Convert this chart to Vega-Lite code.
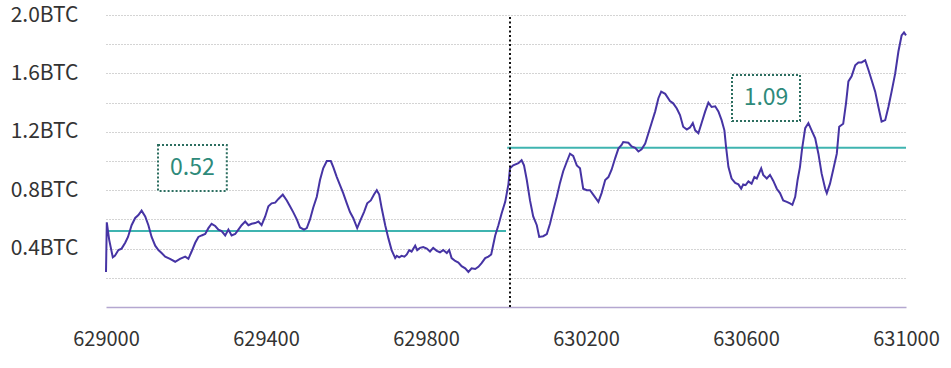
{
  "$schema": "https://vega.github.io/schema/vega-lite/v6.json",
  "width": 800,
  "height": 292,
  "autosize": {"type": "none"},
  "padding": {"left": 106, "top": 15, "right": 45, "bottom": 61},
  "background": "white",
  "config": {"view": {"stroke": null}, "font": "Noto Sans CJK SC"},
  "resolve": {"axis": {"y": "independent"}},
  "datasets": {
    "series": [
      {"block": 629000, "btc": 0.24}, {"block": 629002, "btc": 0.58}, {"block": 629008, "btc": 0.46},
      {"block": 629017, "btc": 0.34}, {"block": 629022, "btc": 0.35}, {"block": 629031, "btc": 0.39},
      {"block": 629039, "btc": 0.40}, {"block": 629048, "btc": 0.44}, {"block": 629055, "btc": 0.48},
      {"block": 629064, "btc": 0.56}, {"block": 629073, "btc": 0.61}, {"block": 629081, "btc": 0.63},
      {"block": 629089, "btc": 0.66}, {"block": 629098, "btc": 0.62}, {"block": 629106, "btc": 0.56},
      {"block": 629114, "btc": 0.48}, {"block": 629123, "btc": 0.42}, {"block": 629131, "btc": 0.39},
      {"block": 629139, "btc": 0.37}, {"block": 629148, "btc": 0.345}, {"block": 629160, "btc": 0.33},
      {"block": 629173, "btc": 0.31}, {"block": 629185, "btc": 0.33}, {"block": 629198, "btc": 0.345},
      {"block": 629206, "btc": 0.33}, {"block": 629214, "btc": 0.38}, {"block": 629223, "btc": 0.44},
      {"block": 629231, "btc": 0.48}, {"block": 629239, "btc": 0.49}, {"block": 629248, "btc": 0.50},
      {"block": 629256, "btc": 0.54}, {"block": 629264, "btc": 0.57}, {"block": 629273, "btc": 0.555},
      {"block": 629281, "btc": 0.53}, {"block": 629289, "btc": 0.52}, {"block": 629298, "btc": 0.49},
      {"block": 629306, "btc": 0.53}, {"block": 629314, "btc": 0.49}, {"block": 629323, "btc": 0.50},
      {"block": 629331, "btc": 0.53}, {"block": 629339, "btc": 0.56}, {"block": 629348, "btc": 0.585},
      {"block": 629356, "btc": 0.56}, {"block": 629364, "btc": 0.57}, {"block": 629373, "btc": 0.575},
      {"block": 629381, "btc": 0.585}, {"block": 629389, "btc": 0.56}, {"block": 629398, "btc": 0.62},
      {"block": 629406, "btc": 0.69}, {"block": 629414, "btc": 0.71}, {"block": 629423, "btc": 0.715},
      {"block": 629431, "btc": 0.74}, {"block": 629442, "btc": 0.77}, {"block": 629452, "btc": 0.73},
      {"block": 629460, "btc": 0.69}, {"block": 629468, "btc": 0.65}, {"block": 629477, "btc": 0.60},
      {"block": 629485, "btc": 0.545}, {"block": 629495, "btc": 0.53}, {"block": 629502, "btc": 0.54},
      {"block": 629510, "btc": 0.60}, {"block": 629518, "btc": 0.68}, {"block": 629527, "btc": 0.755},
      {"block": 629535, "btc": 0.87}, {"block": 629543, "btc": 0.95}, {"block": 629552, "btc": 1.00},
      {"block": 629562, "btc": 1.00}, {"block": 629568, "btc": 0.96}, {"block": 629577, "btc": 0.89},
      {"block": 629585, "btc": 0.835}, {"block": 629593, "btc": 0.78}, {"block": 629602, "btc": 0.71},
      {"block": 629610, "btc": 0.65}, {"block": 629618, "btc": 0.61}, {"block": 629628, "btc": 0.54},
      {"block": 629637, "btc": 0.60}, {"block": 629645, "btc": 0.65}, {"block": 629653, "btc": 0.71},
      {"block": 629662, "btc": 0.73}, {"block": 629670, "btc": 0.77}, {"block": 629677, "btc": 0.80},
      {"block": 629683, "btc": 0.77}, {"block": 629689, "btc": 0.68}, {"block": 629698, "btc": 0.56},
      {"block": 629706, "btc": 0.47}, {"block": 629714, "btc": 0.39}, {"block": 629723, "btc": 0.335},
      {"block": 629727, "btc": 0.35}, {"block": 629733, "btc": 0.34}, {"block": 629739, "btc": 0.35},
      {"block": 629746, "btc": 0.345}, {"block": 629752, "btc": 0.36}, {"block": 629758, "btc": 0.39},
      {"block": 629764, "btc": 0.38}, {"block": 629773, "btc": 0.42}, {"block": 629778, "btc": 0.39},
      {"block": 629785, "btc": 0.405}, {"block": 629793, "btc": 0.41}, {"block": 629802, "btc": 0.40},
      {"block": 629810, "btc": 0.38}, {"block": 629818, "btc": 0.405}, {"block": 629827, "btc": 0.385},
      {"block": 629835, "btc": 0.375}, {"block": 629843, "btc": 0.39}, {"block": 629852, "btc": 0.37},
      {"block": 629858, "btc": 0.39}, {"block": 629864, "btc": 0.335}, {"block": 629873, "btc": 0.315},
      {"block": 629881, "btc": 0.305}, {"block": 629889, "btc": 0.28}, {"block": 629898, "btc": 0.265},
      {"block": 629906, "btc": 0.24}, {"block": 629914, "btc": 0.265}, {"block": 629923, "btc": 0.26},
      {"block": 629931, "btc": 0.275}, {"block": 629939, "btc": 0.30}, {"block": 629948, "btc": 0.335},
      {"block": 629956, "btc": 0.345}, {"block": 629963, "btc": 0.36}, {"block": 629968, "btc": 0.425},
      {"block": 629973, "btc": 0.49}, {"block": 629981, "btc": 0.56}, {"block": 629989, "btc": 0.64},
      {"block": 629998, "btc": 0.72},
      {"block": 630006, "btc": 0.84}, {"block": 630010, "btc": 0.95}, {"block": 630018, "btc": 0.97},
      {"block": 630031, "btc": 0.985}, {"block": 630039, "btc": 1.005}, {"block": 630045, "btc": 0.97},
      {"block": 630052, "btc": 0.87}, {"block": 630060, "btc": 0.73}, {"block": 630068, "btc": 0.62},
      {"block": 630077, "btc": 0.56}, {"block": 630083, "btc": 0.48}, {"block": 630093, "btc": 0.485},
      {"block": 630102, "btc": 0.50}, {"block": 630110, "btc": 0.57}, {"block": 630118, "btc": 0.66},
      {"block": 630127, "btc": 0.755}, {"block": 630135, "btc": 0.85}, {"block": 630143, "btc": 0.93},
      {"block": 630152, "btc": 0.995}, {"block": 630160, "btc": 1.05}, {"block": 630168, "btc": 1.035},
      {"block": 630177, "btc": 0.97}, {"block": 630185, "btc": 0.95}, {"block": 630193, "btc": 0.81},
      {"block": 630202, "btc": 0.80}, {"block": 630210, "btc": 0.80}, {"block": 630218, "btc": 0.77},
      {"block": 630231, "btc": 0.72}, {"block": 630239, "btc": 0.78}, {"block": 630248, "btc": 0.87},
      {"block": 630256, "btc": 0.89}, {"block": 630264, "btc": 0.94}, {"block": 630273, "btc": 1.02},
      {"block": 630281, "btc": 1.085}, {"block": 630289, "btc": 1.11}, {"block": 630293, "btc": 1.13},
      {"block": 630306, "btc": 1.125}, {"block": 630314, "btc": 1.10}, {"block": 630323, "btc": 1.09},
      {"block": 630331, "btc": 1.065}, {"block": 630339, "btc": 1.08}, {"block": 630348, "btc": 1.12},
      {"block": 630356, "btc": 1.19}, {"block": 630364, "btc": 1.26}, {"block": 630373, "btc": 1.34},
      {"block": 630381, "btc": 1.43}, {"block": 630388, "btc": 1.475}, {"block": 630398, "btc": 1.46},
      {"block": 630410, "btc": 1.41}, {"block": 630418, "btc": 1.395}, {"block": 630427, "btc": 1.36},
      {"block": 630435, "btc": 1.315}, {"block": 630443, "btc": 1.235}, {"block": 630452, "btc": 1.215},
      {"block": 630460, "btc": 1.23}, {"block": 630467, "btc": 1.26}, {"block": 630473, "btc": 1.21},
      {"block": 630481, "btc": 1.19}, {"block": 630489, "btc": 1.26}, {"block": 630498, "btc": 1.34},
      {"block": 630506, "btc": 1.40}, {"block": 630514, "btc": 1.37}, {"block": 630523, "btc": 1.375},
      {"block": 630531, "btc": 1.34}, {"block": 630539, "btc": 1.28}, {"block": 630546, "btc": 1.21},
      {"block": 630550, "btc": 1.10}, {"block": 630556, "btc": 0.96}, {"block": 630564, "btc": 0.88},
      {"block": 630573, "btc": 0.85}, {"block": 630581, "btc": 0.84}, {"block": 630588, "btc": 0.81},
      {"block": 630593, "btc": 0.84}, {"block": 630599, "btc": 0.835}, {"block": 630606, "btc": 0.86},
      {"block": 630614, "btc": 0.845}, {"block": 630621, "btc": 0.89}, {"block": 630627, "btc": 0.88},
      {"block": 630638, "btc": 0.95}, {"block": 630643, "btc": 0.905}, {"block": 630652, "btc": 0.88},
      {"block": 630660, "btc": 0.905}, {"block": 630668, "btc": 0.865}, {"block": 630677, "btc": 0.81},
      {"block": 630685, "btc": 0.78}, {"block": 630693, "btc": 0.73}, {"block": 630702, "btc": 0.72},
      {"block": 630710, "btc": 0.71}, {"block": 630716, "btc": 0.70}, {"block": 630723, "btc": 0.755},
      {"block": 630729, "btc": 0.87}, {"block": 630735, "btc": 0.96},
      {"block": 630740, "btc": 1.08}, {"block": 630748, "btc": 1.225}, {"block": 630756, "btc": 1.26},
      {"block": 630764, "btc": 1.21}, {"block": 630773, "btc": 1.155}, {"block": 630781, "btc": 1.05},
      {"block": 630789, "btc": 0.915}, {"block": 630798, "btc": 0.81}, {"block": 630802, "btc": 0.78},
      {"block": 630810, "btc": 0.845}, {"block": 630818, "btc": 0.94}, {"block": 630827, "btc": 1.05},
      {"block": 630833, "btc": 1.235}, {"block": 630843, "btc": 1.255}, {"block": 630850, "btc": 1.395},
      {"block": 630856, "btc": 1.545}, {"block": 630864, "btc": 1.58}, {"block": 630873, "btc": 1.655},
      {"block": 630881, "btc": 1.675}, {"block": 630889, "btc": 1.675}, {"block": 630898, "btc": 1.69},
      {"block": 630906, "btc": 1.625}, {"block": 630914, "btc": 1.555}, {"block": 630923, "btc": 1.475},
      {"block": 630931, "btc": 1.37}, {"block": 630939, "btc": 1.27}, {"block": 630948, "btc": 1.28},
      {"block": 630956, "btc": 1.37}, {"block": 630964, "btc": 1.475}, {"block": 630973, "btc": 1.60},
      {"block": 630981, "btc": 1.75}, {"block": 630989, "btc": 1.86}, {"block": 630995, "btc": 1.88},
      {"block": 631000, "btc": 1.86}
    ],
    "means": [
      {"start": 629000, "end": 630000, "mean": 0.52},
      {"start": 630003, "end": 631000, "mean": 1.09}
    ],
    "boxes": [
      {"x0": 629130, "x1": 629302, "y0": 0.795, "y1": 1.11, "cx": 629216, "cy": 0.952, "label": "0.52"},
      {"x0": 630565, "x1": 630735, "y0": 1.274, "y1": 1.589, "cx": 630650, "cy": 1.431, "label": "1.09"}
    ],
    "split": [{"block": 630010, "top": 2.0, "bottom": 0}]
  },
  "layer": [
    {
      "data": {"name": "means"},
      "mark": {"type": "rule", "color": "#3fb4b0", "strokeWidth": 2},
      "encoding": {
        "x": {
          "field": "start", "type": "quantitative",
          "scale": {"domain": [629000, 631000], "nice": false, "zero": false},
          "axis": {
            "values": [629000, 629400, 629800, 630200, 630600, 631000],
            "format": "d", "title": null, "ticks": false, "grid": false,
            "labelFontSize": 20, "labelColor": "#333333", "labelPadding": 22,
            "labelFlush": false, "labelOverlap": false, "labelBound": false,
            "domainColor": "#b4a7d0", "domainWidth": 1.5
          }
        },
        "x2": {"field": "end"},
        "y": {
          "field": "mean", "type": "quantitative",
          "scale": {"domain": [0, 2], "nice": false, "zero": true},
          "axis": {
            "orient": "left",
            "values": [0.2, 0.4, 0.6, 0.8, 1.0, 1.2, 1.4, 1.6, 1.8, 2.0],
            "labels": false,
            "title": null, "ticks": false, "domain": false,
            "grid": true, "gridDash": [1, 2], "gridColor": "#a8a8a8", "gridWidth": 1
          }
        }
      }
    },
    {
      "data": {"name": "series"},
      "mark": {"type": "line", "color": "#4634a4", "strokeWidth": 2, "interpolate": "linear"},
      "encoding": {
        "x": {"field": "block", "type": "quantitative"},
        "y": {
          "field": "btc", "type": "quantitative",
          "axis": {
            "orient": "left",
            "values": [0.4, 0.8, 1.2, 1.6, 2.0],
            "format": ".1f",
            "labelExpr": "datum.label + 'BTC'",
            "title": null, "ticks": false, "domain": false, "grid": false,
            "labelFontSize": 21, "labelColor": "#333333", "labelPadding": 28,
            "labelOverlap": false, "labelBound": false, "labelFlush": false
          }
        }
      }
    },
    {
      "data": {"name": "split"},
      "mark": {"type": "rule", "color": "#111111", "strokeWidth": 2, "strokeDash": [2, 2.5]},
      "encoding": {
        "x": {"field": "block", "type": "quantitative"},
        "y": {"field": "bottom", "type": "quantitative", "axis": null},
        "y2": {"field": "top"}
      }
    },
    {
      "data": {"name": "boxes"},
      "mark": {"type": "rect", "fill": "white", "stroke": "#2c6e60", "strokeWidth": 2, "strokeDash": [2, 2]},
      "encoding": {
        "x": {"field": "x0", "type": "quantitative"},
        "x2": {"field": "x1"},
        "y": {"field": "y0", "type": "quantitative", "axis": null},
        "y2": {"field": "y1"}
      }
    },
    {
      "data": {"name": "boxes"},
      "mark": {"type": "text", "color": "#2e8a7a", "fontSize": 23, "align": "center", "baseline": "middle"},
      "encoding": {
        "x": {"field": "cx", "type": "quantitative"},
        "y": {"field": "cy", "type": "quantitative", "axis": null},
        "text": {"field": "label"}
      }
    }
  ]
}
